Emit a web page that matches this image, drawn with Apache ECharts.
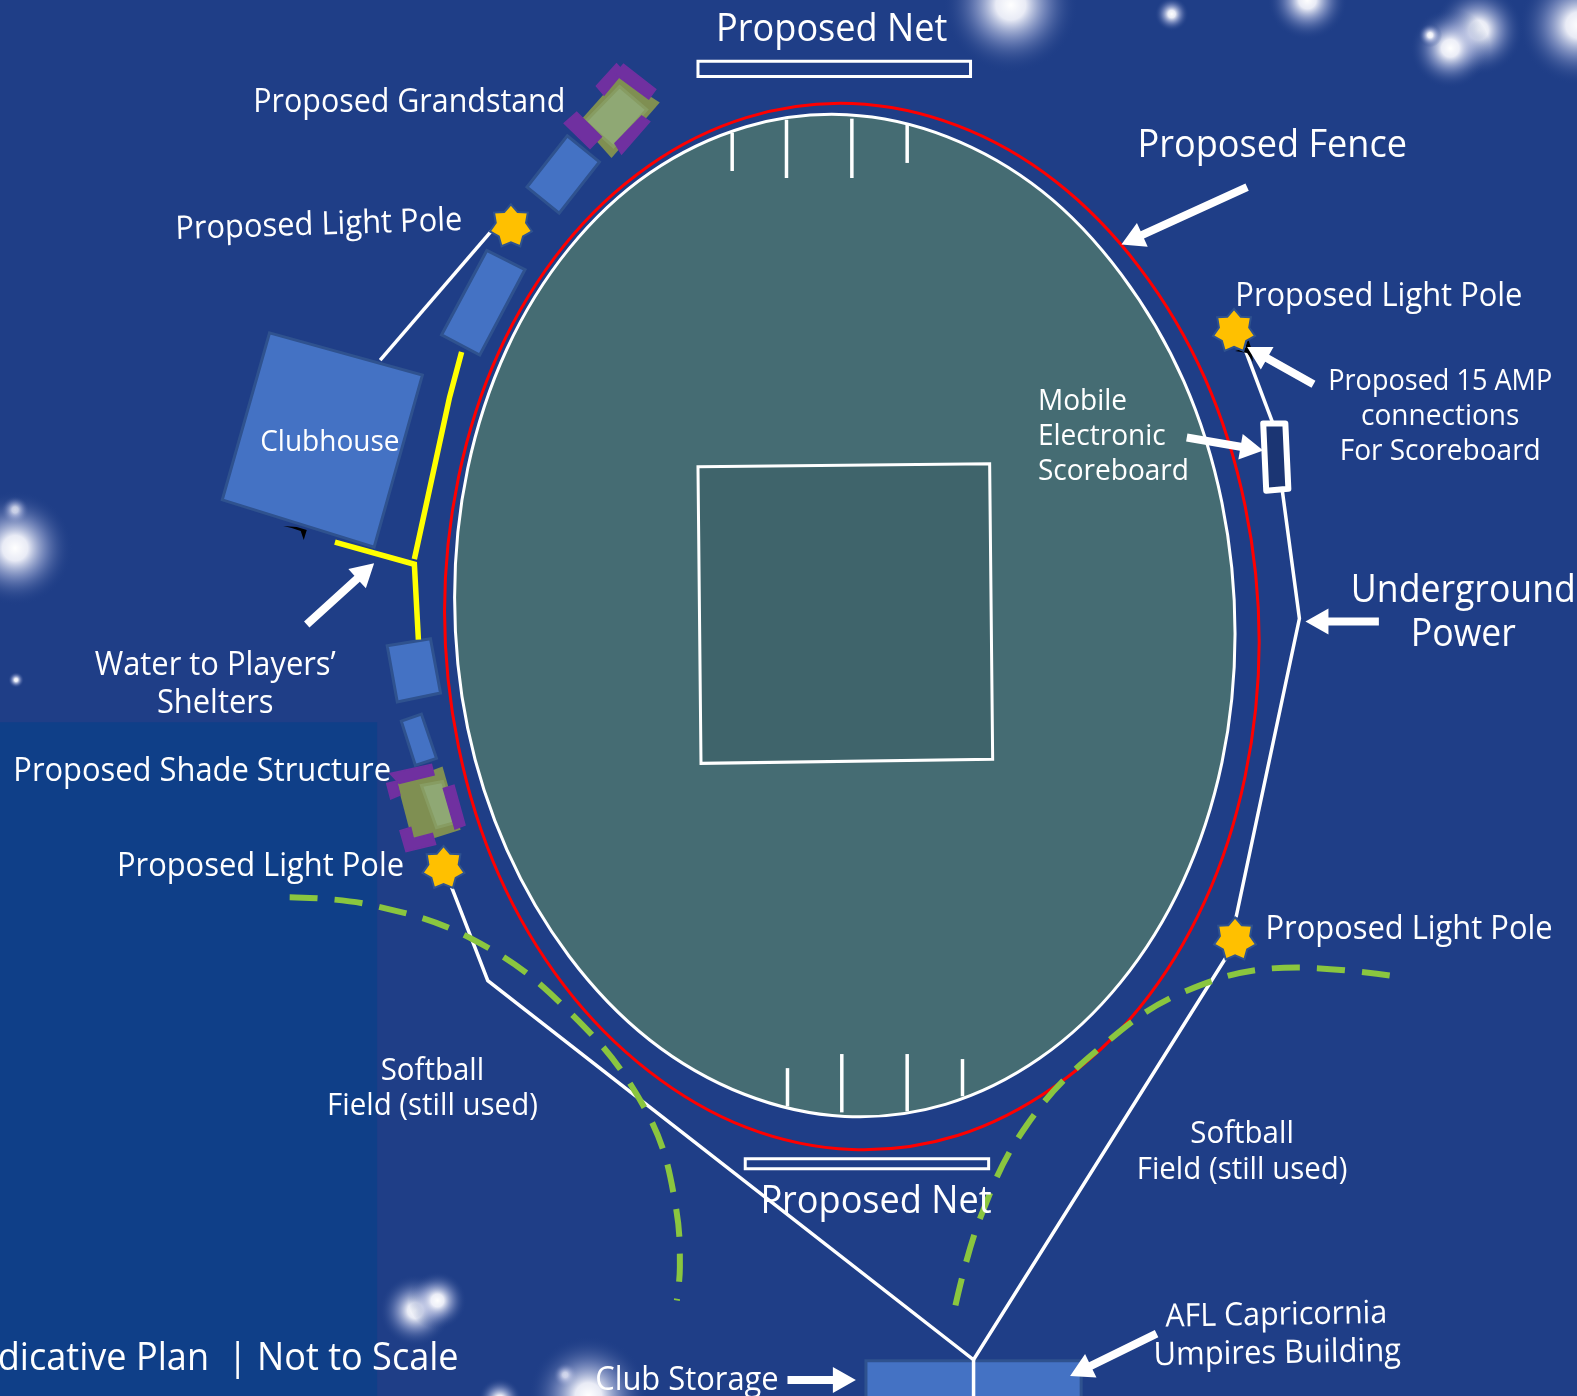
<!DOCTYPE html>
<html><head><meta charset="utf-8">
<style>html,body{margin:0;padding:0;background:#1f3e87}#c{width:1577px;height:1396px}</style>
<script src="https://cdn.jsdelivr.net/npm/echarts@6/dist/echarts.min.js"></script>
</head><body><div id="c"></div>
<script>
// Plan extent
const planWidth = 1568, planHeight = 1388;

// Blurred lights: [x, y, diameter]
const lights = [[1005,5,135],[1165,14,34],[1300,0,80],[1470,30,90],[1442,48,80],[1422,35,24],[1570,25,120],
  [15,507,28],[15,545,115],[16,676,16],[413,1303,72],[435,1293,58],[562,1367,24],[585,1388,120],[497,1392,44]];

// Areas
const darkPanel = [[0,718],[375,718],[375,1388],[0,1388]];
const fieldOutline = [[842,114],[942,136],[1036,190],[1115,273],[1177,379],[1215,500],[1228,630],[1215,758],[1176,877],[1114,977],[1034,1052],[940,1098],[840,1110],[740,1088],[646,1034],[566,951],[504,845],[465,724],[452,594],[465,466],[504,347],[566,247],[646,172],[742,126]];
const fenceOutline = [[847,103],[952,125],[1049,180],[1133,266],[1198,376],[1238,503],[1252,638],[1238,772],[1198,896],[1133,1002],[1049,1080],[952,1129],[847,1143],[742,1121],[645,1065],[561,980],[496,870],[456,743],[442,608],[456,474],[496,350],[561,244],[645,165],[742,117]];
const pitchSquare = [[694,464],[984,461],[987,755],[697,759]];
const buildings = [
  [[564,135],[596,161],[556,212],[524,186]],
  [[484,249],[522,268],[477,353],[439,333]],
  [[268,331],[420,373],[372,544],[221,497]],
  [[385,642],[428,635],[438,689],[395,698]],
  [[399,717],[419,710],[434,754],[413,761]],
  [[861,1353],[1075,1353],[1075,1400],[861,1400]]
];
const standOuter = [[[616,76],[656,102],[608,157],[576,121]],[[440,762],[458,825],[411,840],[395,779]]];
const standInner = [[[616,86],[643,109],[610,146],[582,121]],[[419,781],[440,777],[452,818],[434,823]]];
const standBars = [
  [[593,85.5],[613,63.6],[620,71],[600.6,94.5]],
  [[620,64],[652,89],[645,98.4],[611.5,73.6]],
  [[561,122.6],[573.4,111.7],[598,135.9],[586.7,147.5]],
  [[611.5,142.5],[638,115.3],[646,120.9],[618,153]],
  [[387.8,769],[429,760],[431.6,770.6],[397,779]],
  [[384.5,779],[394.4,776.6],[397.7,790.5],[388.5,794.5]],
  [[440.8,783.9],[451.4,780.6],[462.4,820.3],[452.4,824.3]],
  [[397.7,826],[408.4,822.6],[411,833.6],[429.9,828.6],[433.2,839.5],[403.7,846.8]]
];
const scoreboard = [[1256,421],[1278,421],[1281,486],[1259,488]];
const netTop = [[694,61],[965,61],[965,76],[694,76]];
const netBottom = [[741,1152],[983,1152],[983,1162],[741,1162]];
const blackMarks = [
  [[1228,349],[1238,346],[1241,337],[1244,346],[1246,360],[1240,351]],
  [[281.6,523],[295,524],[305,527],[302,537],[299,528],[290,525]]
];

// Lines
const whiteLines = [
  [[378,358],[490,228]],
  [[1237,345],[1266,422]],
  [[1275,488],[1292,615],[1229,912]],
  [[1219,952],[968,1352],[485,975],[449,882]],
  [[968,1352],[968,1390]],
  [[728,132],[728,170]],[[782,119],[782,177]],[[847,118],[847,177]],[[902,124],[902,162]],
  [[783,1062],[783,1100]],[[837,1048],[837,1106]],[[902,1048],[902,1105]],[[957,1053],[957,1090]]
];
const yellowLines = [
  [[459,350],[447,395],[412,556]],
  [[333,539],[412,561],[416,636]]
];
const softballLeft = [[288,892],[370,900],[470,934],[560,1000],[640,1100],[672,1200],[676,1260],[673,1293]];
const softballRight = [[950,1298],[975,1210],[1020,1120],[1090,1045],[1180,985],[1290,962],[1382,970]];

// Arrows: [tailX, tailY, tipX, tipY]
const arrows = [[1240,186,1115,243],[1306,382,1240,345],[1180,435,1256,448],[1371,618,1298,618],
  [305,621,372,560],[783,1372,851,1372],[1150,1326,1064,1368]];

// Stars
const stars = [[508,224],[1227,328],[441,862],[1228,933]];

// Labels: [text, x, y, size, rotationDegrees, align]
const labels = [
  ['Proposed Net',827,30,38,0,'center'],
  ['Proposed Grandstand',407,102,32,0,'center'],
  ['Proposed Light Pole',317,224,32.5,1.8,'center'],
  ['Clubhouse',328,440,29.5,0,'center'],
  ['Proposed Fence',1265,145,38,0,'center'],
  ['Proposed Light Pole',1371,295,32.5,0,'center'],
  ['Proposed 15 AMP',1432,380,28.5,0,'center'],
  ['connections',1432,414,29.5,0,'center'],
  ['For Scoreboard',1432,449,29.5,0,'center'],
  ['Mobile',1032,399,29.5,0,'left'],
  ['Electronic',1032,434,29.5,0,'left'],
  ['Scoreboard',1032,469,29.5,0,'left'],
  ['Underground',1455,588,37.5,0,'center'],
  ['Power',1455,632,37.5,0,'center'],
  ['Water to Players\u2019',214,662,32.5,0,'center'],
  ['Shelters',214,700,32.5,0,'center'],
  ['Proposed Shade Structure',201,767,32.5,0,'center'],
  ['Proposed Light Pole',259,862,32.5,0,'center'],
  ['Proposed Light Pole',1401,924,32.5,0,'center'],
  ['Softball',430,1065,31,0,'center'],
  ['Field (still used)',430,1100,31,0,'center'],
  ['Softball',1235,1128,31,0,'center'],
  ['Field (still used)',1235,1163,31,0,'center'],
  ['Proposed Net',871,1195,38,0,'center'],
  ['AFL Capricornia',1269,1308,32,1,'center'],
  ['Umpires Building',1270,1346,32.5,1,'center'],
  ['Club Storage',683,1373,32.5,0,'center'],
  ['Indicative Plan  | Not to Scale',456,1351,38,0,'right']
];

const FONT = '"Open Sans"';
const TEXT_SQUEEZE = 0.95;
const STAR = 'path://M50 0L65.6 17.6L89.1 18.8L85.1 42L98.7 61.1L78.1 72.4L71.7 95L50 86L28.3 95L21.9 72.4L1.3 61.1L14.9 42L10.9 18.8L34.4 17.6Z';

function polygons(shapes, style, z, smooth) {
  return {
    type: 'custom', coordinateSystem: 'cartesian2d', silent: true, z, clip: false,
    data: shapes.map(s => s[0]),
    renderItem: (p, api) => ({
      type: 'polygon',
      shape: { points: shapes[p.dataIndex].map(q => api.coord(q)), smooth: smooth || 0 },
      style
    })
  };
}
function line(points, color, width, z, extra) {
  return Object.assign({
    type: 'line', data: points, showSymbol: false, silent: true, z, clip: false,
    lineStyle: { color, width, cap: 'butt', join: 'miter' }
  }, extra || {});
}
const arrowSeries = {
  type: 'custom', coordinateSystem: 'cartesian2d', silent: true, z: 30,
  data: arrows.map(a => [a[2], a[3]]),
  renderItem: (p, api) => {
    const a = arrows[p.dataIndex];
    const t = api.coord([a[0], a[1]]), h = api.coord([a[2], a[3]]);
    const dx = h[0]-t[0], dy = h[1]-t[1], L = Math.hypot(dx,dy), ux = dx/L, uy = dy/L, nx = -uy, ny = ux;
    const sw = 4, hw = 13, hl = 23;
    const bx = h[0]-ux*hl, by = h[1]-uy*hl;
    return { type:'polygon', shape:{points:[
      [t[0]+nx*sw,t[1]+ny*sw],[bx+nx*sw,by+ny*sw],[bx+nx*hw,by+ny*hw],h,
      [bx-nx*hw,by-ny*hw],[bx-nx*sw,by-ny*sw],[t[0]-nx*sw,t[1]-ny*sw]]},
      style:{fill:'#fff'} };
  }
};
const glow = new echarts.graphic.RadialGradient(0.5,0.5,0.5,[
  {offset:0,color:'rgba(255,255,255,1)'},{offset:0.22,color:'rgba(250,250,255,0.92)'},
  {offset:0.55,color:'rgba(170,180,220,0.5)'},{offset:1,color:'rgba(31,62,135,0)'}]);
const buildingStyle = {fill:'#4472c4',stroke:'#2f528f',lineWidth:3};

const series = [
  { type:'scatter', data:lights.map(l=>[l[0],l[1]]), symbol:'circle', symbolSize:(v,p)=>lights[p.dataIndex][2],
    itemStyle:{color:glow,opacity:1}, silent:true, z:1, clip:false },
  polygons([darkPanel], {fill:'#0f3f88'}, 2),
  polygons([fieldOutline], {fill:'#456c73',stroke:'#fff',lineWidth:3}, 5, 0.34),
  polygons([fenceOutline], {fill:'none',stroke:'#ff0000',lineWidth:3}, 6, 0.34),
  polygons([pitchSquare], {fill:'#3f646b',stroke:'#fff',lineWidth:3}, 7),
  polygons(buildings, buildingStyle, 8),
  polygons(standOuter, {fill:'#7f8f52'}, 9),
  polygons(standInner, {fill:'#8fa874',stroke:'#879c62',lineWidth:3}, 10),
  polygons(standBars, {fill:'#7030a0',stroke:'#7030a0',lineWidth:1.5}, 11),
  polygons([netTop, netBottom], {fill:'none',stroke:'#fff',lineWidth:3}, 12),
  polygons([scoreboard], {fill:'#1b3573',stroke:'#fff',lineWidth:6,lineJoin:'round'}, 20),
  polygons(blackMarks, {fill:'#000'}, 21)
];
whiteLines.forEach(l => series.push(line(l,'#fff',3.5,13)));
yellowLines.forEach(l => series.push(line(l,'#ffff00',5.5,14)));
[softballLeft, softballRight].forEach(l => {
  const s = line(l,'#8ac63f',6,15,{smooth:0.4});
  s.lineStyle.type = [28,17];
  series.push(s);
});
series.push(arrowSeries);
series.push({ type:'scatter', data:stars, symbol:STAR, symbolSize:42, silent:true, z:22,
  itemStyle:{color:'#ffc000',opacity:1,borderColor:'#2f528f',borderWidth:2} });
series.push({
  type:'custom', coordinateSystem:'cartesian2d', silent:true, z:40, clip:false,
  data: labels.map(l=>[l[1],l[2]]),
  renderItem:(p,api)=>{
    const l = labels[p.dataIndex], c = api.coord([l[1],l[2]]);
    return {type:'text', x:c[0], y:c[1], rotation:l[4]*Math.PI/180, scaleX:TEXT_SQUEEZE,
      style:{text:l[0], fill:'#fff', font:`${l[3]}px ${FONT}`, align:l[5], verticalAlign:'middle'}};
  }
});

const chart = echarts.init(document.getElementById('c'), null, {renderer:'canvas'});
chart.setOption({
  animation:false,
  backgroundColor:'#1f3e87',
  grid:{left:0,right:0,top:0,bottom:0},
  xAxis:{type:'value',min:0,max:planWidth,show:false},
  yAxis:{type:'value',min:0,max:planHeight,inverse:true,show:false},
  series
});
</script></body></html>
